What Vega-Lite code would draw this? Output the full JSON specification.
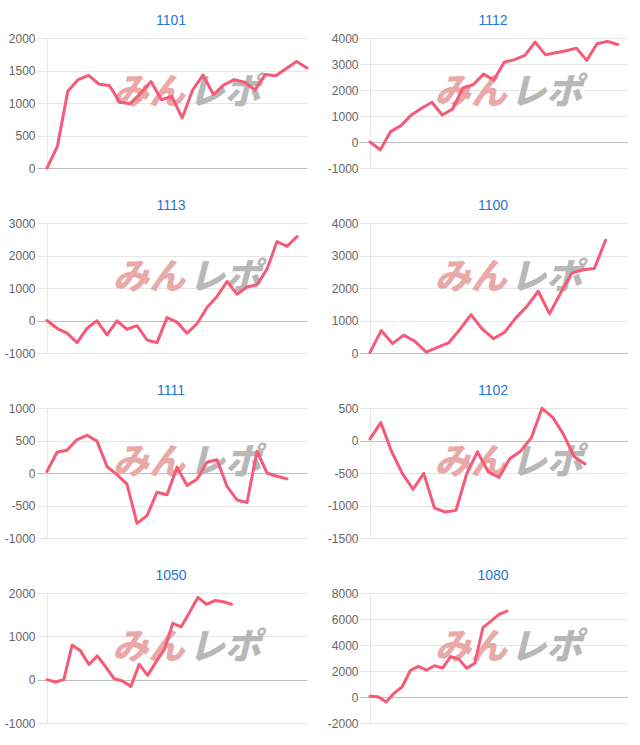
{
  "$schema": "https://vega.github.io/schema/vega-lite/v6.json",
  "padding": {"left": 4, "top": 14, "right": 0, "bottom": 0},
  "background": "white",
  "data": {"values": [
    {"s":"1101","i":0,"v":0},{"s":"1101","i":1,"v":333},{"s":"1101","i":2,"v":1180},{"s":"1101","i":3,"v":1360},{"s":"1101","i":4,"v":1425},{"s":"1101","i":5,"v":1290},{"s":"1101","i":6,"v":1270},{"s":"1101","i":7,"v":1010},{"s":"1101","i":8,"v":990},{"s":"1101","i":9,"v":1150},{"s":"1101","i":10,"v":1330},{"s":"1101","i":11,"v":1050},{"s":"1101","i":12,"v":1100},{"s":"1101","i":13,"v":770},{"s":"1101","i":14,"v":1200},{"s":"1101","i":15,"v":1430},{"s":"1101","i":16,"v":1130},{"s":"1101","i":17,"v":1280},{"s":"1101","i":18,"v":1360},{"s":"1101","i":19,"v":1320},{"s":"1101","i":20,"v":1200},{"s":"1101","i":21,"v":1440},{"s":"1101","i":22,"v":1420},{"s":"1101","i":23,"v":1530},{"s":"1101","i":24,"v":1640},{"s":"1101","i":25,"v":1540},
    {"s":"1112","i":0,"v":0},{"s":"1112","i":1,"v":-300},{"s":"1112","i":2,"v":400},{"s":"1112","i":3,"v":630},{"s":"1112","i":4,"v":1040},{"s":"1112","i":5,"v":1300},{"s":"1112","i":6,"v":1530},{"s":"1112","i":7,"v":1040},{"s":"1112","i":8,"v":1270},{"s":"1112","i":9,"v":2080},{"s":"1112","i":10,"v":2200},{"s":"1112","i":11,"v":2610},{"s":"1112","i":12,"v":2380},{"s":"1112","i":13,"v":3070},{"s":"1112","i":14,"v":3170},{"s":"1112","i":15,"v":3330},{"s":"1112","i":16,"v":3840},{"s":"1112","i":17,"v":3350},{"s":"1112","i":18,"v":3430},{"s":"1112","i":19,"v":3510},{"s":"1112","i":20,"v":3610},{"s":"1112","i":21,"v":3140},{"s":"1112","i":22,"v":3780},{"s":"1112","i":23,"v":3870},{"s":"1112","i":24,"v":3750},
    {"s":"1113","i":0,"v":0},{"s":"1113","i":1,"v":-240},{"s":"1113","i":2,"v":-390},{"s":"1113","i":3,"v":-680},{"s":"1113","i":4,"v":-240},{"s":"1113","i":5,"v":-10},{"s":"1113","i":6,"v":-440},{"s":"1113","i":7,"v":-10},{"s":"1113","i":8,"v":-270},{"s":"1113","i":9,"v":-160},{"s":"1113","i":10,"v":-600},{"s":"1113","i":11,"v":-680},{"s":"1113","i":12,"v":90},{"s":"1113","i":13,"v":-50},{"s":"1113","i":14,"v":-390},{"s":"1113","i":15,"v":-100},{"s":"1113","i":16,"v":400},{"s":"1113","i":17,"v":740},{"s":"1113","i":18,"v":1200},{"s":"1113","i":19,"v":810},{"s":"1113","i":20,"v":1030},{"s":"1113","i":21,"v":1100},{"s":"1113","i":22,"v":1580},{"s":"1113","i":23,"v":2430},{"s":"1113","i":24,"v":2280},{"s":"1113","i":25,"v":2580},
    {"s":"1100","i":0,"v":20},{"s":"1100","i":1,"v":690},{"s":"1100","i":2,"v":290},{"s":"1100","i":3,"v":550},{"s":"1100","i":4,"v":360},{"s":"1100","i":5,"v":30},{"s":"1100","i":6,"v":170},{"s":"1100","i":7,"v":310},{"s":"1100","i":8,"v":720},{"s":"1100","i":9,"v":1180},{"s":"1100","i":10,"v":740},{"s":"1100","i":11,"v":440},{"s":"1100","i":12,"v":640},{"s":"1100","i":13,"v":1080},{"s":"1100","i":14,"v":1440},{"s":"1100","i":15,"v":1900},{"s":"1100","i":16,"v":1210},{"s":"1100","i":17,"v":1850},{"s":"1100","i":18,"v":2460},{"s":"1100","i":19,"v":2560},{"s":"1100","i":20,"v":2600},{"s":"1100","i":21,"v":3470},
    {"s":"1111","i":0,"v":25},{"s":"1111","i":1,"v":320},{"s":"1111","i":2,"v":350},{"s":"1111","i":3,"v":515},{"s":"1111","i":4,"v":580},{"s":"1111","i":5,"v":490},{"s":"1111","i":6,"v":100},{"s":"1111","i":7,"v":-25},{"s":"1111","i":8,"v":-170},{"s":"1111","i":9,"v":-775},{"s":"1111","i":10,"v":-655},{"s":"1111","i":11,"v":-295},{"s":"1111","i":12,"v":-335},{"s":"1111","i":13,"v":90},{"s":"1111","i":14,"v":-190},{"s":"1111","i":15,"v":-95},{"s":"1111","i":16,"v":165},{"s":"1111","i":17,"v":205},{"s":"1111","i":18,"v":-205},{"s":"1111","i":19,"v":-415},{"s":"1111","i":20,"v":-455},{"s":"1111","i":21,"v":335},{"s":"1111","i":22,"v":0},{"s":"1111","i":23,"v":-50},{"s":"1111","i":24,"v":-90},
    {"s":"1102","i":0,"v":25},{"s":"1102","i":1,"v":275},{"s":"1102","i":2,"v":-165},{"s":"1102","i":3,"v":-505},{"s":"1102","i":4,"v":-750},{"s":"1102","i":5,"v":-505},{"s":"1102","i":6,"v":-1040},{"s":"1102","i":7,"v":-1100},{"s":"1102","i":8,"v":-1075},{"s":"1102","i":9,"v":-510},{"s":"1102","i":10,"v":-175},{"s":"1102","i":11,"v":-480},{"s":"1102","i":12,"v":-570},{"s":"1102","i":13,"v":-280},{"s":"1102","i":14,"v":-165},{"s":"1102","i":15,"v":40},{"s":"1102","i":16,"v":495},{"s":"1102","i":17,"v":355},{"s":"1102","i":18,"v":95},{"s":"1102","i":19,"v":-250},{"s":"1102","i":20,"v":-360},
    {"s":"1050","i":0,"v":0},{"s":"1050","i":1,"v":-55},{"s":"1050","i":2,"v":0},{"s":"1050","i":3,"v":800},{"s":"1050","i":4,"v":665},{"s":"1050","i":5,"v":350},{"s":"1050","i":6,"v":550},{"s":"1050","i":7,"v":295},{"s":"1050","i":8,"v":25},{"s":"1050","i":9,"v":-30},{"s":"1050","i":10,"v":-155},{"s":"1050","i":11,"v":355},{"s":"1050","i":12,"v":100},{"s":"1050","i":13,"v":410},{"s":"1050","i":14,"v":705},{"s":"1050","i":15,"v":1300},{"s":"1050","i":16,"v":1220},{"s":"1050","i":17,"v":1555},{"s":"1050","i":18,"v":1900},{"s":"1050","i":19,"v":1740},{"s":"1050","i":20,"v":1825},{"s":"1050","i":21,"v":1800},{"s":"1050","i":22,"v":1740},
    {"s":"1080","i":0,"v":50},{"s":"1080","i":1,"v":25},{"s":"1080","i":2,"v":-380},{"s":"1080","i":3,"v":300},{"s":"1080","i":4,"v":790},{"s":"1080","i":5,"v":2040},{"s":"1080","i":6,"v":2350},{"s":"1080","i":7,"v":2070},{"s":"1080","i":8,"v":2400},{"s":"1080","i":9,"v":2220},{"s":"1080","i":10,"v":3110},{"s":"1080","i":11,"v":2930},{"s":"1080","i":12,"v":2220},{"s":"1080","i":13,"v":2600},{"s":"1080","i":14,"v":5330},{"s":"1080","i":15,"v":5840},{"s":"1080","i":16,"v":6350},{"s":"1080","i":17,"v":6610}
  ]},
  "columns": 2,
  "spacing": {"row": 25, "column": 18},
  "concat": [
    {"width": 260, "height": 130, "title": "1101", "layer": [
      {"data": {"values": [{}]}, "mark": {"type": "text", "text": "みん", "align": "right", "color": "#e9a9a9"}, "encoding": {"x": {"datum": 13.25, "type": "quantitative", "axis": null}, "y": {"datum": 1150, "type": "quantitative", "axis": {"values": [0, 500, 1000, 1500, 2000], "title": null}}}},
      {"data": {"values": [{}]}, "mark": {"type": "text", "text": "レポ", "align": "left", "color": "#b8b8b8"}, "encoding": {"x": {"datum": 13.6, "type": "quantitative", "axis": null}, "y": {"datum": 1150, "type": "quantitative", "axis": {"values": [0, 500, 1000, 1500, 2000], "title": null}}}},
      {"transform": [{"filter": "datum.s === '1101'"}], "mark": {"type": "line"}, "encoding": {"x": {"field": "i", "type": "quantitative", "scale": {"domain": [0, 25], "nice": false, "zero": false}, "axis": null}, "y": {"field": "v", "type": "quantitative", "scale": {"domain": [0, 2000], "nice": false}, "axis": {"values": [0, 500, 1000, 1500, 2000], "title": null}}}}
    ]},
    {"width": 258, "height": 130, "title": "1112", "layer": [
      {"data": {"values": [{}]}, "mark": {"type": "text", "text": "みん", "align": "right", "color": "#e9a9a9"}, "encoding": {"x": {"datum": 13.25, "type": "quantitative", "axis": null}, "y": {"datum": 1875, "type": "quantitative", "axis": {"values": [-1000, 0, 1000, 2000, 3000, 4000], "title": null}}}},
      {"data": {"values": [{}]}, "mark": {"type": "text", "text": "レポ", "align": "left", "color": "#b8b8b8"}, "encoding": {"x": {"datum": 13.6, "type": "quantitative", "axis": null}, "y": {"datum": 1875, "type": "quantitative", "axis": {"values": [-1000, 0, 1000, 2000, 3000, 4000], "title": null}}}},
      {"transform": [{"filter": "datum.s === '1112'"}], "mark": {"type": "line"}, "encoding": {"x": {"field": "i", "type": "quantitative", "scale": {"domain": [0, 25], "nice": false, "zero": false}, "axis": null}, "y": {"field": "v", "type": "quantitative", "scale": {"domain": [-1000, 4000], "nice": false}, "axis": {"values": [-1000, 0, 1000, 2000, 3000, 4000], "title": null}}}}
    ]},
    {"width": 260, "height": 130, "title": "1113", "layer": [
      {"data": {"values": [{}]}, "mark": {"type": "text", "text": "みん", "align": "right", "color": "#e9a9a9"}, "encoding": {"x": {"datum": 13.8, "type": "quantitative", "axis": null}, "y": {"datum": 1300, "type": "quantitative", "axis": {"values": [-1000, 0, 1000, 2000, 3000], "title": null}}}},
      {"data": {"values": [{}]}, "mark": {"type": "text", "text": "レポ", "align": "left", "color": "#b8b8b8"}, "encoding": {"x": {"datum": 14.2, "type": "quantitative", "axis": null}, "y": {"datum": 1300, "type": "quantitative", "axis": {"values": [-1000, 0, 1000, 2000, 3000], "title": null}}}},
      {"transform": [{"filter": "datum.s === '1113'"}], "mark": {"type": "line"}, "encoding": {"x": {"field": "i", "type": "quantitative", "scale": {"domain": [0, 26], "nice": false, "zero": false}, "axis": null}, "y": {"field": "v", "type": "quantitative", "scale": {"domain": [-1000, 3000], "nice": false}, "axis": {"values": [-1000, 0, 1000, 2000, 3000], "title": null}}}}
    ]},
    {"width": 258, "height": 130, "title": "1100", "layer": [
      {"data": {"values": [{}]}, "mark": {"type": "text", "text": "みん", "align": "right", "color": "#e9a9a9"}, "encoding": {"x": {"datum": 12.2, "type": "quantitative", "axis": null}, "y": {"datum": 2300, "type": "quantitative", "axis": {"values": [0, 1000, 2000, 3000, 4000], "title": null}}}},
      {"data": {"values": [{}]}, "mark": {"type": "text", "text": "レポ", "align": "left", "color": "#b8b8b8"}, "encoding": {"x": {"datum": 12.5, "type": "quantitative", "axis": null}, "y": {"datum": 2300, "type": "quantitative", "axis": {"values": [0, 1000, 2000, 3000, 4000], "title": null}}}},
      {"transform": [{"filter": "datum.s === '1100'"}], "mark": {"type": "line"}, "encoding": {"x": {"field": "i", "type": "quantitative", "scale": {"domain": [0, 23], "nice": false, "zero": false}, "axis": null}, "y": {"field": "v", "type": "quantitative", "scale": {"domain": [0, 4000], "nice": false}, "axis": {"values": [0, 1000, 2000, 3000, 4000], "title": null}}}}
    ]},
    {"width": 260, "height": 130, "title": "1111", "layer": [
      {"data": {"values": [{}]}, "mark": {"type": "text", "text": "みん", "align": "right", "color": "#e9a9a9"}, "encoding": {"x": {"datum": 13.8, "type": "quantitative", "axis": null}, "y": {"datum": 150, "type": "quantitative", "axis": {"values": [-1000, -500, 0, 500, 1000], "title": null}}}},
      {"data": {"values": [{}]}, "mark": {"type": "text", "text": "レポ", "align": "left", "color": "#b8b8b8"}, "encoding": {"x": {"datum": 14.2, "type": "quantitative", "axis": null}, "y": {"datum": 150, "type": "quantitative", "axis": {"values": [-1000, -500, 0, 500, 1000], "title": null}}}},
      {"transform": [{"filter": "datum.s === '1111'"}], "mark": {"type": "line"}, "encoding": {"x": {"field": "i", "type": "quantitative", "scale": {"domain": [0, 26], "nice": false, "zero": false}, "axis": null}, "y": {"field": "v", "type": "quantitative", "scale": {"domain": [-1000, 1000], "nice": false}, "axis": {"values": [-1000, -500, 0, 500, 1000], "title": null}}}}
    ]},
    {"width": 258, "height": 130, "title": "1102", "layer": [
      {"data": {"values": [{}]}, "mark": {"type": "text", "text": "みん", "align": "right", "color": "#e9a9a9"}, "encoding": {"x": {"datum": 12.7, "type": "quantitative", "axis": null}, "y": {"datum": -350, "type": "quantitative", "axis": {"values": [-1500, -1000, -500, 0, 500], "title": null}}}},
      {"data": {"values": [{}]}, "mark": {"type": "text", "text": "レポ", "align": "left", "color": "#b8b8b8"}, "encoding": {"x": {"datum": 13.1, "type": "quantitative", "axis": null}, "y": {"datum": -350, "type": "quantitative", "axis": {"values": [-1500, -1000, -500, 0, 500], "title": null}}}},
      {"transform": [{"filter": "datum.s === '1102'"}], "mark": {"type": "line"}, "encoding": {"x": {"field": "i", "type": "quantitative", "scale": {"domain": [0, 24], "nice": false, "zero": false}, "axis": null}, "y": {"field": "v", "type": "quantitative", "scale": {"domain": [-1500, 500], "nice": false}, "axis": {"values": [-1500, -1000, -500, 0, 500], "title": null}}}}
    ]},
    {"width": 260, "height": 130, "title": "1050", "layer": [
      {"data": {"values": [{}]}, "mark": {"type": "text", "text": "みん", "align": "right", "color": "#e9a9a9"}, "encoding": {"x": {"datum": 16.4, "type": "quantitative", "axis": null}, "y": {"datum": 725, "type": "quantitative", "axis": {"values": [-1000, 0, 1000, 2000], "title": null}}}},
      {"data": {"values": [{}]}, "mark": {"type": "text", "text": "レポ", "align": "left", "color": "#b8b8b8"}, "encoding": {"x": {"datum": 16.9, "type": "quantitative", "axis": null}, "y": {"datum": 725, "type": "quantitative", "axis": {"values": [-1000, 0, 1000, 2000], "title": null}}}},
      {"transform": [{"filter": "datum.s === '1050'"}], "mark": {"type": "line"}, "encoding": {"x": {"field": "i", "type": "quantitative", "scale": {"domain": [0, 31], "nice": false, "zero": false}, "axis": null}, "y": {"field": "v", "type": "quantitative", "scale": {"domain": [-1000, 2000], "nice": false}, "axis": {"values": [-1000, 0, 1000, 2000], "title": null}}}}
    ]},
    {"width": 258, "height": 130, "title": "1080", "layer": [
      {"data": {"values": [{}]}, "mark": {"type": "text", "text": "みん", "align": "right", "color": "#e9a9a9"}, "encoding": {"x": {"datum": 17.0, "type": "quantitative", "axis": null}, "y": {"datum": 3750, "type": "quantitative", "axis": {"values": [-2000, 0, 2000, 4000, 6000, 8000], "title": null}}}},
      {"data": {"values": [{}]}, "mark": {"type": "text", "text": "レポ", "align": "left", "color": "#b8b8b8"}, "encoding": {"x": {"datum": 17.4, "type": "quantitative", "axis": null}, "y": {"datum": 3750, "type": "quantitative", "axis": {"values": [-2000, 0, 2000, 4000, 6000, 8000], "title": null}}}},
      {"transform": [{"filter": "datum.s === '1080'"}], "mark": {"type": "line"}, "encoding": {"x": {"field": "i", "type": "quantitative", "scale": {"domain": [0, 32], "nice": false, "zero": false}, "axis": null}, "y": {"field": "v", "type": "quantitative", "scale": {"domain": [-2000, 8000], "nice": false}, "axis": {"values": [-2000, 0, 2000, 4000, 6000, 8000], "title": null}}}}
    ]}
  ],
  "config": {
    "view": {"stroke": null},
    "font": "Liberation Sans",
    "line": {"color": "#f65a78", "strokeWidth": 3, "strokeJoin": "round", "strokeCap": "round"},
    "text": {"font": "Noto Sans CJK JP", "fontSize": 36, "fontWeight": 900, "fontStyle": "italic", "baseline": "middle"},
    "axis": {
      "labelFont": "Liberation Sans", "labelFontSize": 12, "labelColor": "#666666",
      "labelPadding": 2, "tickSize": 10, "labelExpr": "'' + datum.value",
      "tickColor": {"condition": {"test": "datum.value === 0", "value": "#bfbfbf"}, "value": "#e6e6e6"},
      "gridColor": {"condition": {"test": "datum.value === 0", "value": "#bfbfbf"}, "value": "#e6e6e6"},
      "domainColor": "#e6e6e6", "grid": true
    },
    "title": {"font": "Liberation Sans", "fontSize": 14, "fontWeight": "normal", "color": "#1f74d4", "offset": 4, "anchor": "middle", "frame": "group", "dx": -6}
  }
}
